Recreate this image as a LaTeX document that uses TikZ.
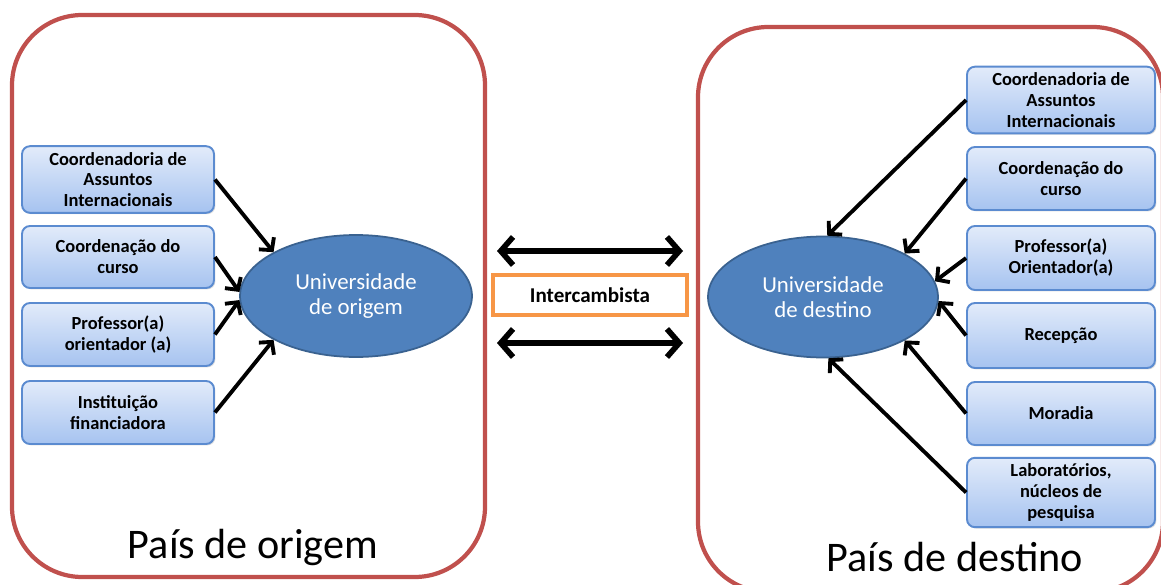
\documentclass[tikz,border=0pt]{standalone}
\usepackage{fontspec}
\setmainfont{Carlito}
\usetikzlibrary{arrows.meta,shadows,shapes.geometric}
\definecolor{paisred}{HTML}{C0504D}
\definecolor{unifill}{HTML}{4F81BD}
\definecolor{uniline}{HTML}{3A6290}
\definecolor{boxtop}{HTML}{E2EBFA}
\definecolor{boxbot}{HTML}{A6C3F0}
\definecolor{boxline}{HTML}{5B8BD0}
\definecolor{interline}{HTML}{F79646}
\tikzset{
  pais/.style={draw=paisred,line width=2.4pt,rounded corners=40pt},
  orgao/.style={draw=boxline,line width=1.1pt,rounded corners=4.5pt,
    top color=boxtop,bottom color=boxbot,align=center,
    font=\bfseries\fontsize{10.5}{11.9}\selectfont,
    drop shadow={opacity=0.25,shadow xshift=0.8pt,shadow yshift=-0.8pt}},
  uni/.style={ellipse,draw=uniline,line width=1pt,fill=unifill,
    text=white,align=center,inner sep=0pt,
    font=\fontsize{13}{14}\selectfont},
  liga/.style={line width=2.2pt,-{Straight Barb[length=5pt,width=11pt,line width=2.2pt]}},
  troca/.style={line width=3.2pt,{Straight Barb[length=7pt,width=16pt,line width=3.2pt]}-{Straight Barb[length=7pt,width=16pt,line width=3.2pt]}}
}
\begin{document}
\begin{tikzpicture}[x=0.02cm,y=-0.02cm]
\useasboundingbox (0,0) rectangle (1161,585);
\fill[white] (0,0) rectangle (1161,585);
% os dois paises
\draw[pais] (12,15) rectangle (485,577);
\draw[pais] (698,27) rectangle (1163,592);
\node[font=\fontsize{24}{26}\selectfont] (po) at (253,547) {País de origem};
\node[font=\fontsize{24}{26}\selectfont] (pd) at (955,557) {País de destino};
% universidade de origem
\node[uni,minimum width=4.64cm,minimum height=2.44cm] (uo) at (356,296) {Universidade\\de origem};
\node[orgao,minimum width=3.84cm,minimum height=1.3cm] (o1) at (118,179.5) {Coordenadoria de\\Assuntos\\Internacionais};
\node[orgao,minimum width=3.84cm,minimum height=1.24cm] (o2) at (118,257) {Coordenação do\\curso};
\node[orgao,minimum width=3.84cm,minimum height=1.26cm] (o3) at (118,334.5) {Professor(a)\\orientador (a)};
\node[orgao,minimum width=3.84cm,minimum height=1.26cm] (o4) at (118,412.5) {Instituição\\financiadora};
\draw[liga] (o1.east) -- (uo.152);
\draw[liga] (o2.east) -- (uo.178);
\draw[liga] (o3.east) -- (uo.182);
\draw[liga] (o4.east) -- (uo.208);
% intercambista
\node[draw=interline,line width=1.8pt,fill=white,minimum width=3.88cm,minimum height=0.8cm,
  font=\bfseries\fontsize{12}{13}\selectfont] (ic) at (590,295) {Intercambista};
\coordinate (ta) at (497,251);
\coordinate (tb) at (683,251);
\coordinate (ba) at (497,343);
\coordinate (bb) at (683,343);
\draw[troca] (ta) -- (tb);
\draw[troca] (ba) -- (bb);
% universidade de destino
\node[uni,minimum width=4.6cm,minimum height=2.42cm] (ud) at (823,297) {Universidade\\de destino};
\node[orgao,minimum width=3.76cm,minimum height=1.32cm] (d1) at (1061,100) {Coordenadoria de\\Assuntos\\Internacionais};
\node[orgao,minimum width=3.76cm,minimum height=1.26cm] (d2) at (1061,178.5) {Coordenação do\\curso};
\node[orgao,minimum width=3.76cm,minimum height=1.28cm] (d3) at (1061,258) {Professor(a)\\Orientador(a)};
\node[orgao,minimum width=3.76cm,minimum height=1.3cm] (d4) at (1061,335.5) {Recepção};
\node[orgao,minimum width=3.76cm,minimum height=1.26cm] (d5) at (1061,413.5) {Moradia};
\node[orgao,minimum width=3.76cm,minimum height=1.3cm] (d6) at (1061,492.5) {Laboratórios,\\núcleos de\\pesquisa};
\draw[liga] (d1.west) -- (ud.86);
\draw[liga] (d2.west) -- (ud.28);
\draw[liga] (d3.west) -- (ud.8);
\draw[liga] (d4.west) -- (ud.-2);
\draw[liga] (d5.west) -- (ud.-28);
\draw[liga] (d6.west) -- (ud.-85);
\end{tikzpicture}
\end{document}
